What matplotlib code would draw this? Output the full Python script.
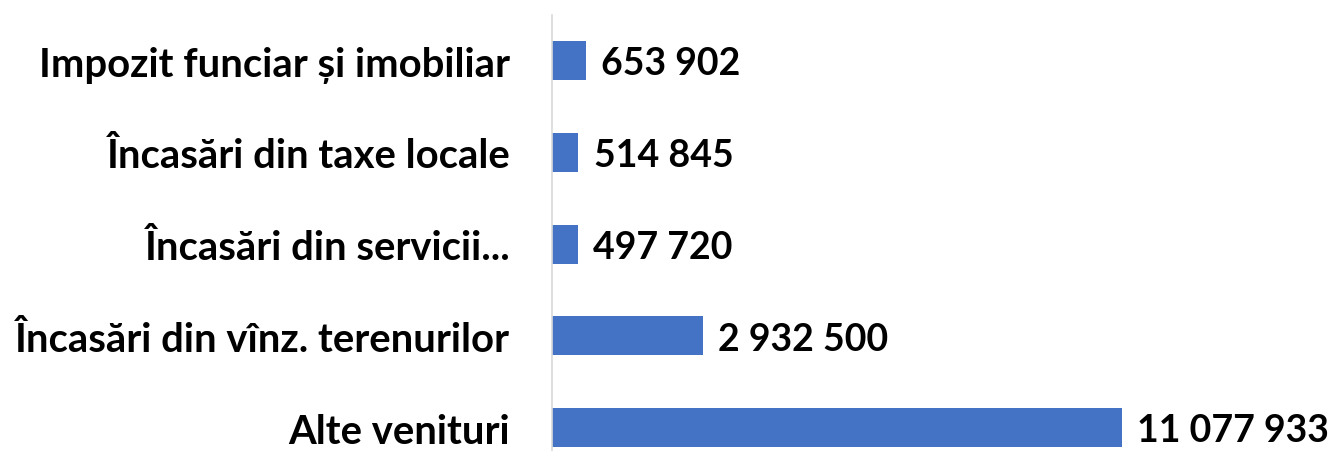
import matplotlib.pyplot as plt

# date (de sus in jos in grafic)
categorii = ['Impozit funciar și imobiliar', 'Încasări din taxe locale',
             'Încasări din servicii...', 'Încasări din vînz. terenurilor',
             'Alte venituri']
valori = [653902, 514845, 497720, 2932500, 11077933]

plt.rcParams['font.family'] = ['Lato', 'DejaVu Sans']

fig = plt.figure(figsize=(13.32, 4.52), dpi=100)
ax = fig.add_axes([552 / 1332, 0, (1122 - 552) / 1332, (452 - 16) / 452])

# Alte venituri jos
y = list(range(len(categorii)))[::-1]
bars = ax.barh(y, valori, height=0.425, color='#4472C4')

for yi, v in zip(y, valori):
    ax.annotate(f'{v:,}'.replace(',', ' '), (v, yi), xytext=(11, -2),
                textcoords='offset points', ha='left', va='center',
                fontsize=27, fontweight='bold', annotation_clip=False)

ax.set_xlim(0, max(valori))
ax.set_ylim(-0.256, 4.496)
ax.set_yticks(y)
ax.set_yticklabels(categorii, fontsize=28.8, fontweight='bold')
ax.tick_params(axis='y', length=0, pad=30)
ax.set_xticks([])
for s in ['top', 'right', 'bottom']:
    ax.spines[s].set_visible(False)
ax.spines['left'].set_color('#d9d9d9')
ax.spines['left'].set_linewidth(1.2)

fig.savefig('out.png', dpi=100)
